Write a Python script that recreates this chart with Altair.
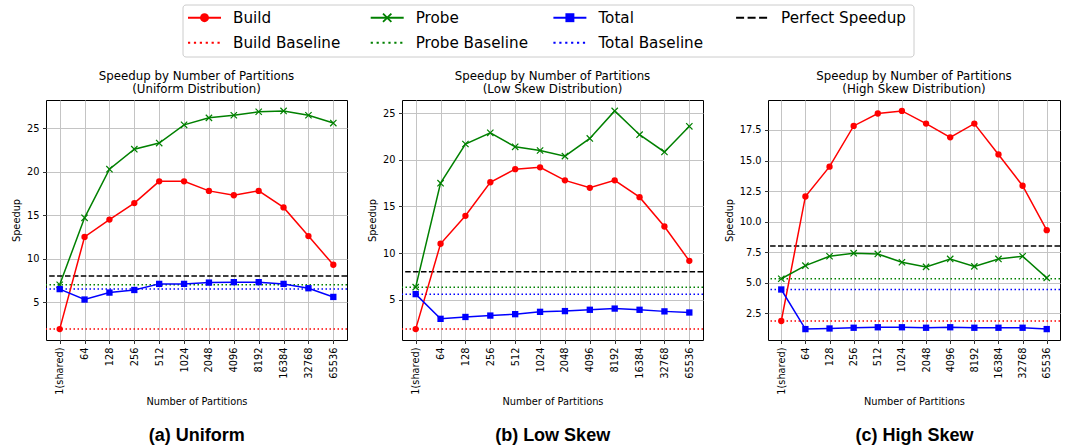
import altair as alt
import pandas as pd

# ---------------- data ----------------
CATEGORIES = ["1(shared)", "64", "128", "256", "512", "1024", "2048",
              "4096", "8192", "16384", "32768", "65536"]

SERIES = ["Build", "Probe", "Total"]

uniform_build = [1.9, 12.5, 14.5, 16.4, 18.9, 18.9, 17.8, 17.3, 17.8, 15.9, 12.6, 9.3]
uniform_probe = [7.0, 14.7, 20.3, 22.6, 23.3, 25.4, 26.2, 26.5, 26.9, 27.0, 26.5, 25.6]
uniform_total = [6.5, 5.3, 6.1, 6.4, 7.1, 7.1, 7.25, 7.3, 7.3, 7.1, 6.6, 5.6]
uniform_baselines = [1.9, 7.0, 6.5]

low_build = [1.85, 11.0, 14.0, 17.6, 19.0, 19.2, 17.8, 17.0, 17.8, 16.0, 12.85, 9.17]
low_probe = [6.35, 17.5, 21.7, 22.9, 21.4, 21.0, 20.4, 22.3, 25.25, 22.7, 20.85, 23.6]
low_total = [5.6, 2.95, 3.15, 3.3, 3.45, 3.7, 3.78, 3.92, 4.05, 3.92, 3.75, 3.63]
low_baselines = [1.85, 6.35, 5.6]

high_build = [1.87, 12.06, 14.5, 17.83, 18.85, 19.06, 18.02, 16.9, 18.02, 15.5, 12.94, 9.3]
high_probe = [5.33, 6.4, 7.17, 7.42, 7.36, 6.68, 6.3, 6.95, 6.34, 6.95, 7.17, 5.4]
high_total = [4.45, 1.21, 1.26, 1.32, 1.36, 1.36, 1.32, 1.36, 1.32, 1.32, 1.32, 1.21]
high_baselines = [1.87, 5.33, 4.45]

PERFECT_SPEEDUP = 8

uniform_ticks = [5, 10, 15, 20, 25]
low_ticks = [5, 10, 15, 20, 25]
high_ticks = [2.5, 5.0, 7.5, 10.0, 12.5, 15.0, 17.5]

LEGEND_LABELS = ["Build", "Probe", "Total", "Perfect Speedup",
                 "Build Baseline", "Probe Baseline", "Total Baseline"]

# ---------------- styles ----------------
FONT = "DejaVu Sans"
SERIES_COLORS = ["#ff0000", "#008000", "#0000ff"]
X_PATH = "M-1,-1L1,1M1,-1L-1,1"
DOT = [1.5, 2.5]
DASH = [5.5, 2.4]

color_scale = alt.Scale(domain=SERIES, range=SERIES_COLORS)


def panel(build, probe, total, baselines, ticks, fmt, dist, caption, width, cap_dx):
    rows = []
    for s, vals in zip(SERIES, [build, probe, total]):
        for c, v in zip(CATEGORIES, vals):
            rows.append({"partitions": c, "series": s, "speedup": v})
    df = pd.DataFrame(rows)
    vals = build + probe + total
    lo, hi = min(vals), max(vals)
    m = (hi - lo) * 0.05
    yscale = alt.Scale(domain=[lo - m, hi + m], nice=False, zero=False)
    y_axis = alt.Axis(title="Speedup", values=ticks, format=fmt, titlePadding=5,
                      labelOverlap=False, tickCount=len(ticks))

    x = alt.X("partitions:N", sort=CATEGORIES,
              scale=alt.Scale(type="point", padding=0.55),
              axis=alt.Axis(title="Number of Partitions", labelAngle=270,
                            labelAlign="right", labelBaseline="middle",
                            titlePadding=2, labelOverlap=False))
    y = alt.Y("speedup:Q", scale=yscale, axis=y_axis)
    color = alt.Color("series:N", scale=color_scale, legend=None)

    bl = pd.DataFrame({"series": SERIES, "speedup": baselines})
    rules = alt.Chart(bl).mark_rule(strokeWidth=1.5, strokeDash=DOT).encode(
        y=alt.Y("speedup:Q", scale=yscale, axis=y_axis), color=color)
    perfect = alt.Chart(pd.DataFrame({"speedup": [PERFECT_SPEEDUP]})).mark_rule(
        strokeWidth=1.5, strokeDash=DASH, color="black").encode(
        y=alt.Y("speedup:Q", scale=yscale, axis=y_axis))

    base = alt.Chart(df)
    lines = base.mark_line(strokeWidth=1.5).encode(x=x, y=y, color=color)
    circles = base.transform_filter(alt.datum.series == "Build").mark_point(
        shape="circle", filled=True, size=40, opacity=1).encode(x=x, y=y, color=color)
    crosses = base.transform_filter(alt.datum.series == "Probe").mark_point(
        shape=X_PATH, filled=False, size=40, strokeWidth=1.2, opacity=1).encode(
        x=x, y=y, color=color)
    squares = base.transform_filter(alt.datum.series == "Total").mark_point(
        shape="square", filled=True, size=40, opacity=1).encode(x=x, y=y, color=color)

    inner = alt.layer(rules, perfect, lines, circles, crosses, squares).properties(
        width=width, height=240,
        title=alt.Title(["Speedup by Number of Partitions", "\u00a0(" + dist + " Distribution)"],
                        font=FONT, fontSize=11.8, fontWeight="normal", color="black",
                        anchor="middle", frame="group", offset=4, lineHeight=13.5))
    return alt.vconcat(inner, title=alt.Title(
        caption, orient="bottom", font="Liberation Sans", fontSize=18,
        fontWeight="bold", color="black", anchor="middle", frame="bounds",
        offset=20, dx=cap_dx))


pa = panel(uniform_build, uniform_probe, uniform_total, uniform_baselines,
           uniform_ticks, "d", "Uniform", "(a) Uniform", 301, 17)
pb = panel(low_build, low_probe, low_total, low_baselines,
           low_ticks, "d", "Low Skew", "(b) Low Skew", 301, 17)
pc = panel(high_build, high_probe, high_total, high_baselines,
           high_ticks, ".1f", "High Skew", "(c) High Skew", 292, 22)

row = alt.hconcat(pa, pb, pc, spacing=18)

# ---------------- legend ----------------
leg = pd.DataFrame({
    "label": LEGEND_LABELS,
    "col": [i % 4 for i in range(len(LEGEND_LABELS))],
    "row": [i // 4 for i in range(len(LEGEND_LABELS))],
})
leg_colors = ["#ff0000", "#008000", "#0000ff", "#000000", "#ff0000", "#008000", "#0000ff"]
leg_dashes = [[1, 0], [1, 0], [1, 0], [8, 3.5], [2.2, 3.7], [2.2, 3.7], [2.2, 3.7]]

lx = alt.X("col:Q", scale=alt.Scale(domain=[-0.7772, 3.9847], nice=False, zero=False), axis=None)
ly = alt.Y("row:Q", scale=alt.Scale(domain=[-0.508, 1.572], nice=False, zero=False, reverse=True), axis=None)
lcolor = alt.Color("label:N", scale=alt.Scale(domain=LEGEND_LABELS, range=leg_colors), legend=None)
ldash = alt.StrokeDash("label:N", scale=alt.Scale(domain=LEGEND_LABELS, range=leg_dashes), legend=None)

box = alt.Chart(pd.DataFrame({"b": [0]})).mark_rect(
    fill="white", stroke="#cccccc", strokeWidth=1, cornerRadius=3).encode(
    x=alt.value(137), x2=alt.value(868), y=alt.value(0), y2=alt.value(52))
lbase = alt.Chart(leg)
handles = lbase.mark_rule(strokeWidth=2, x2Offset=33).encode(
    x=lx, x2=alt.X2("col:Q"), y=ly, color=lcolor, strokeDash=ldash)
l_circ = lbase.transform_filter(alt.datum.label == "Build").mark_point(
    shape="circle", filled=True, size=80, opacity=1, xOffset=16.5).encode(x=lx, y=ly, color=lcolor)
l_cross = lbase.transform_filter(alt.datum.label == "Probe").mark_point(
    shape=X_PATH, filled=False, size=70, strokeWidth=1.8, opacity=1, xOffset=16.5).encode(
    x=lx, y=ly, color=lcolor)
l_sq = lbase.transform_filter(alt.datum.label == "Total").mark_point(
    shape="square", filled=True, size=80, opacity=1, xOffset=16.5).encode(x=lx, y=ly, color=lcolor)
l_text = lbase.mark_text(align="left", baseline="middle", dx=45, font=FONT,
                         fontSize=15.2, color="black").encode(x=lx, y=ly, text="label:N")

legend = alt.layer(box, handles, l_circ, l_cross, l_sq, l_text).properties(
    width=870, height=52, view=alt.ViewBackground(stroke="transparent"))

chart = alt.vconcat(legend, row, spacing=12).properties(
    padding={"left": 11, "top": 4, "right": 0, "bottom": 0}
).configure_view(stroke="black", strokeWidth=1).configure_axis(
    labelFont=FONT, labelFontSize=9.8, labelColor="black",
    titleFont=FONT, titleFontSize=9.8, titleFontWeight="normal", titleColor="black",
    tickColor="black", tickSize=3.5, tickWidth=0.8, labelPadding=3.5,
    domain=False, grid=True, gridColor="#c4c4c4", gridWidth=1, labelOverlap=False,
)

chart.save("out.html", embed_options={"renderer": "svg", "actions": False})
